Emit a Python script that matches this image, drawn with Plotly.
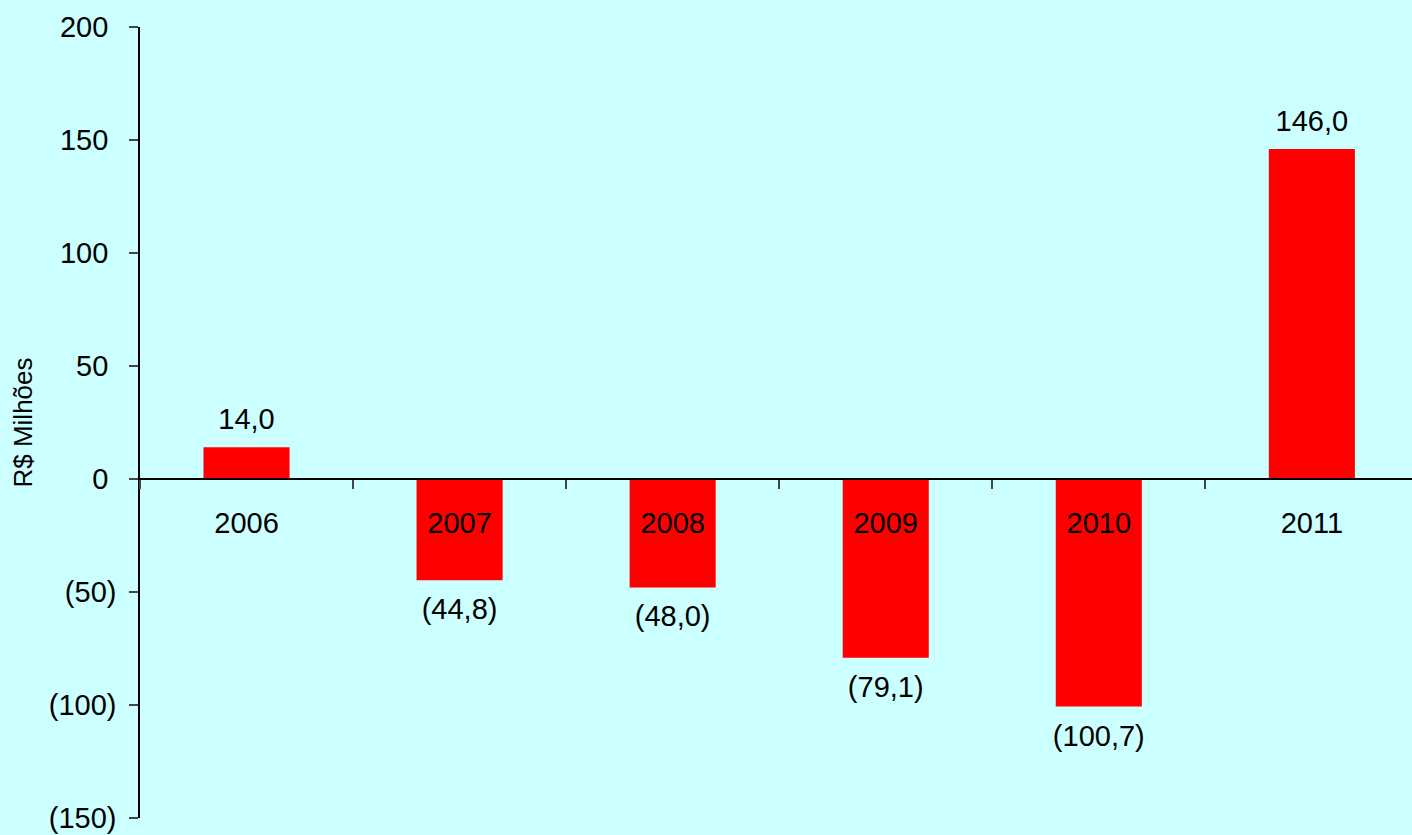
import plotly.graph_objects as go

years = ["2006", "2007", "2008", "2009", "2010", "2011"]
values = [14.0, -44.8, -48.0, -79.1, -100.7, 146.0]
y_tickvals = [200, 150, 100, 50, 0, -50, -100, -150]
y_ticktext = ["200\u00a0", "150\u00a0", "100\u00a0", "50\u00a0", "0\u00a0",
              "(50)", "(100)", "(150)"]
y_title = "R$ Milhões"


def fmt(v):
    s = f"{abs(v):.1f}".replace(".", ",")
    return f"({s})" if v < 0 else s


BG = "#CCFFFF"
FONT = "Liberation Sans, Arial, sans-serif"
FS = 29

fig = go.Figure()
fig.add_trace(go.Bar(
    x=years, y=values, marker=dict(color="#FF0000", line=dict(width=0)),
    width=0.404, showlegend=False, hoverinfo="skip",
))

pos = [(x, v) for x, v in zip(years, values) if v >= 0]
neg = [(x, v) for x, v in zip(years, values) if v < 0]

fig.add_trace(go.Scatter(
    x=[p[0] for p in pos], y=[p[1] for p in pos],
    text=[fmt(p[1]) for p in pos], mode="markers+text", textposition="top center",
    marker=dict(size=16, color="rgba(0,0,0,0)", line=dict(width=0)),
    textfont=dict(family=FONT, size=FS, color="black"),
    showlegend=False, hoverinfo="skip", cliponaxis=False,
))
fig.add_trace(go.Scatter(
    x=[p[0] for p in neg], y=[p[1] for p in neg],
    text=[fmt(p[1]) for p in neg], mode="markers+text", textposition="bottom center",
    marker=dict(size=26, color="rgba(0,0,0,0)", line=dict(width=0)),
    textfont=dict(family=FONT, size=FS, color="black"),
    showlegend=False, hoverinfo="skip", cliponaxis=False,
))

fig.update_layout(
    width=1412, height=835,
    margin=dict(l=140, r=0, t=27, b=17),
    paper_bgcolor=BG, plot_bgcolor=BG,
    font=dict(family=FONT, size=FS, color="black"),
    xaxis=dict(
        type="category", range=[-0.5, 5.47],
        anchor="free", position=150 / 350,
        showline=True, linecolor="black", linewidth=1.5,
        ticks="outside", tickson="boundaries", ticklen=9, tickcolor="#444",
        tickwidth=1.5,
        showgrid=False, zeroline=False,
        tickfont=dict(family=FONT, size=FS, color="black"),
        ticklabelstandoff=18,
    ),
    yaxis=dict(
        range=[-150, 200], tickvals=y_tickvals, ticktext=y_ticktext,
        showline=True, linecolor="black", linewidth=1.5,
        ticks="outside", ticklen=9, tickcolor="#444", tickwidth=1.5,
        showgrid=False, zeroline=False,
        tickfont=dict(family=FONT, size=FS, color="black"),
        ticklabelstandoff=7,
        title=dict(text=y_title, font=dict(family=FONT, size=26, color="black"), standoff=9),
    ),
)

fig.write_html("out.html", config={"displayModeBar": False},
               post_script="document.body.style.margin='0';")
